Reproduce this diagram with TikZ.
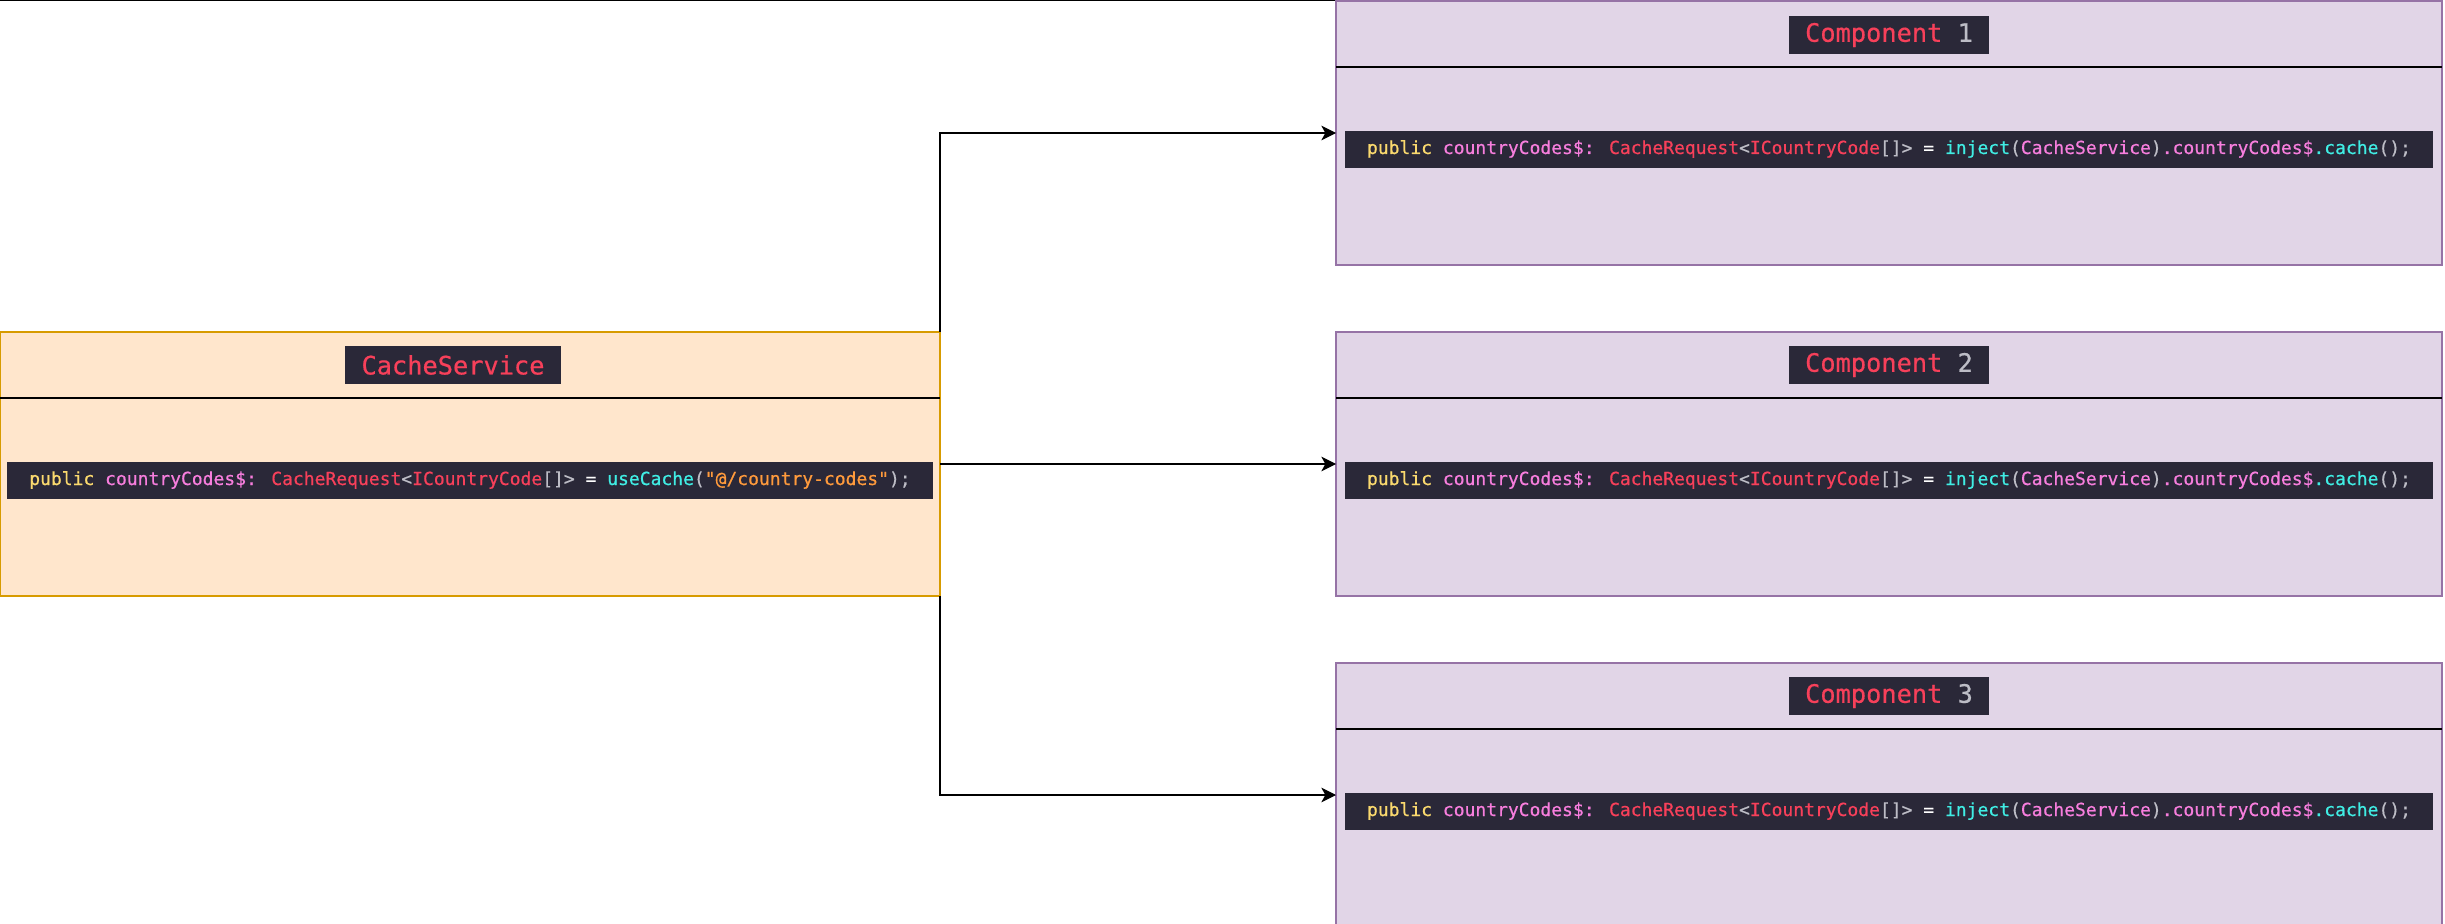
\documentclass[tikz,border=0pt]{standalone}
\usepackage{fontspec}
\usepackage{tikz}
\usetikzlibrary{arrows.meta}
\newfontfamily\codefont[FakeBold=0.6]{DejaVu Sans Mono}
\definecolor{servicefill}{HTML}{FFE6CC}
\definecolor{servicedraw}{HTML}{D79B00}
\definecolor{compfill}{HTML}{E1D5E7}
\definecolor{compdraw}{HTML}{9673A6}
\definecolor{codebg}{HTML}{2A2838}
\definecolor{codeyellow}{HTML}{FAD96E}
\definecolor{codepink}{HTML}{F77EDD}
\definecolor{codered}{HTML}{F7405A}
\definecolor{codecyan}{HTML}{40EDE4}
\definecolor{codeorange}{HTML}{FF9A3C}
\definecolor{codegrey}{HTML}{BDBDC6}
\newcommand{\kw}[1]{\textcolor{codeyellow}{#1}}
\newcommand{\prop}[1]{\textcolor{codepink}{#1}}
\newcommand{\type}[1]{\textcolor{codered}{#1}}
\newcommand{\fn}[1]{\textcolor{codecyan}{#1}}
\newcommand{\str}[1]{\textcolor{codeorange}{#1}}
\newcommand{\punct}[1]{\textcolor{codegrey}{#1}}
\newcommand{\injectline}{\kw{public} \prop{countryCodes\$:} \type{CacheRequest}\punct{<}\type{ICountryCode}\punct{[]>} = \fn{inject}\punct{(}\prop{CacheService}\punct{)}\prop{.countryCodes\$}\fn{.cache}\punct{();}}
\tikzstyle{box}=[draw, line width=1pt, inner sep=0, outer sep=0, minimum height=198pt]
\tikzstyle{service}=[box, fill=servicefill, draw=servicedraw, minimum width=705pt]
\tikzstyle{component}=[box, fill=compfill, draw=compdraw, minimum width=829.5pt]
\tikzstyle{codeline}=[fill=codebg, text=white, inner xsep=16.5pt, inner ysep=0, minimum height=27.75pt,
                      font=\codefont\fontsize{13.5}{16}\selectfont]
\tikzstyle{badge}=[fill=codebg, inner xsep=12pt, inner ysep=0, minimum height=28.5pt,
                   font=\codefont\fontsize{19}{22}\selectfont]
\tikzstyle{link}=[line width=1pt, -{Stealth[length=11pt, width=11pt, inset=3pt]}]

\begin{document}
\begin{tikzpicture}[x=0.75pt, y=-0.75pt]
    \useasboundingbox (0,0) rectangle (2445,924);
    \draw[line width=0.9pt] (0,0.5) -- (1336,0.5);
    % boxes
    \node[service] (cs) at (470,464) {};
    \node[component] (compA) at (1889,133) {};
    \node[component] (compB) at (1889,464) {};
    \node[component] (compC) at (1889,795) {};
    \foreach \b in {cs,compA,compB,compC}
        \draw[line width=1.1pt] ([yshift=-49.5pt]\b.north west) -- ([yshift=-49.5pt]\b.north east);
    % titles
    \node[badge] (csTitle) at (453,365) {\type{CacheService}};
    \node[badge] (compATitle) at (1889,35) {\type{Component} \punct{1}};
    \node[badge] (compBTitle) at (1889,365) {\type{Component} \punct{2}};
    \node[badge] (compCTitle) at (1889,696) {\type{Component} \punct{3}};
    % code
    \node[codeline] (csCode) at (470,480) {\kw{public} \prop{countryCodes\$:} \type{CacheRequest}\punct{<}\type{ICountryCode}\punct{[]>} = \fn{useCache}\punct{(}\str{"@/country-codes"}\punct{);}};
    \node[codeline] (compACode) at (1889,149) {\injectline};
    \node[codeline] (compBCode) at (1889,480) {\injectline};
    \node[codeline] (compCCode) at (1889,811) {\injectline};
    % links
    \draw[link] (cs.north east) |- (compA.west);
    \draw[link] (cs.east) -- (compB.west);
    \draw[link] (cs.south east) |- (compC.west);
\end{tikzpicture}
\end{document}
